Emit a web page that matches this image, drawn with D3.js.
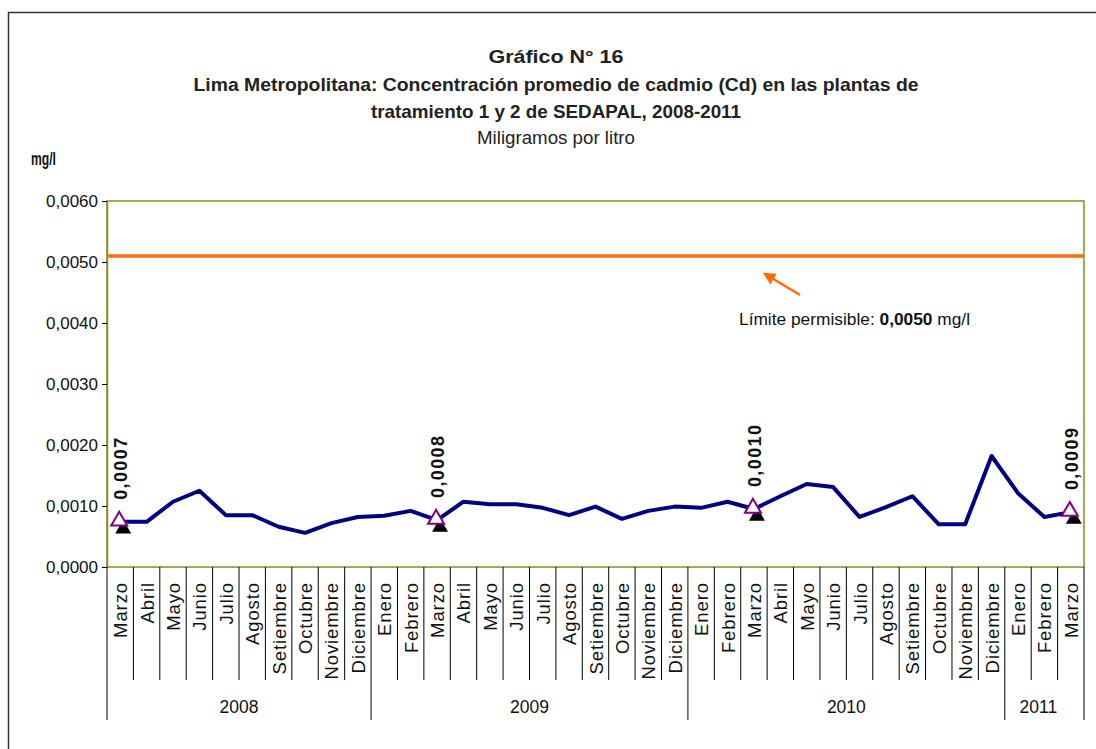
<!DOCTYPE html>
<html><head><meta charset="utf-8">
<script src="https://cdn.jsdelivr.net/npm/d3@7"></script>
<style>
body{margin:0;background:#fff;}
svg{display:block;font-family:"Liberation Sans",Arial,sans-serif;}
</style></head>
<body>
<svg id="c" width="1096" height="749"></svg>
<script>
const months = ["Marzo","Abril","Mayo","Junio","Julio","Agosto","Setiembre","Octubre","Noviembre","Diciembre",
 "Enero","Febrero","Marzo","Abril","Mayo","Junio","Julio","Agosto","Setiembre","Octubre","Noviembre","Diciembre",
 "Enero","Febrero","Marzo","Abril","Mayo","Junio","Julio","Agosto","Setiembre","Octubre","Noviembre","Diciembre",
 "Enero","Febrero","Marzo"];
const years = ["2008","2009","2010","2011"];
const yearCounts = [10,12,12,3];
const values = [0.00074,0.00074,0.00107,0.00125,0.00085,0.00085,0.00066,0.00056,0.00072,0.00082,
 0.00084,0.00092,0.00077,0.00107,0.00103,0.00103,0.00097,0.00085,0.00099,0.00079,0.00092,0.00099,
 0.00097,0.00107,0.00095,0.00116,0.00136,0.00131,0.00082,0.00098,0.00116,0.00070,0.00070,0.00182,
 0.00121,0.00082,0.00090];
const markedIdx = [0,12,24,36];
const markedLabels = ["0,0007","0,0008","0,0010","0,0009"];
const limitValue = 0.0051;
const yTicks = [0,0.001,0.002,0.003,0.004,0.005,0.006];
const titleLines = ["Gráfico N° 16","Lima Metropolitana: Concentración promedio de cadmio (Cd) en las plantas de","tratamiento 1 y 2 de SEDAPAL, 2008-2011"];
const subtitle = "Miligramos por litro";

const svg = d3.select("#c");
const L=107,R=1084,T=201,B=567;
const x = d3.scaleBand().domain(d3.range(months.length)).range([L,R]);
const y = d3.scaleLinear().domain([0,0.006]).range([B,T]);
const fmt = v => d3.format(".4f")(v).replace(".",",");

// outer border
svg.append("rect").attr("x",8.5).attr("y",12.5).attr("width",1100).attr("height",800)
  .attr("fill","none").attr("stroke","#333").attr("stroke-width",1.5);

// titles
const narrow = "'Liberation Sans Narrow','Arial Narrow','Liberation Sans',Arial,sans-serif";
const tl = [{t:titleLines[0],y:63,w:135},{t:titleLines[1],y:91,w:725},{t:titleLines[2],y:118,w:370}];
tl.forEach(d=>{
  svg.append("text").attr("x",556).attr("y",d.y).attr("text-anchor","middle")
   .attr("font-family",narrow).attr("font-weight","bold").attr("font-size",18.5)
   .attr("textLength",d.w).attr("lengthAdjust","spacingAndGlyphs").attr("fill","#222").text(d.t);
});
svg.append("text").attr("x",556).attr("y",144).attr("text-anchor","middle")
  .attr("font-family",narrow).attr("font-size",17.5).attr("textLength",158).attr("lengthAdjust","spacingAndGlyphs")
  .attr("fill","#222").text(subtitle);
svg.append("text").attr("x",31).attr("y",165).attr("font-family",narrow).attr("font-weight","bold")
  .attr("font-size",19).attr("textLength",25).attr("lengthAdjust","spacingAndGlyphs").attr("fill","#111").text("mg/l");

// plot frame
svg.append("rect").attr("x",L).attr("y",T).attr("width",R-L).attr("height",B-T)
  .attr("fill","none").attr("stroke","#8a8a1e").attr("stroke-width",1.5);

// y axis
const yAxis = d3.axisLeft(y).tickValues(yTicks).tickFormat(fmt).tickSize(5).tickSizeOuter(0);
const ya = svg.append("g").attr("transform",`translate(${L},0)`).call(yAxis);
ya.select(".domain").attr("stroke","#8a8a1e").attr("stroke-width",1.5);
ya.selectAll(".tick line").attr("stroke","#000");
ya.selectAll(".tick text").attr("font-size",17).attr("fill","#111").attr("font-family","'Liberation Sans',Arial,sans-serif").attr("x",-9);

// x separators
const bounds = d3.range(months.length+1).map(i => i<months.length ? x(i) : R);
let cum=[0]; yearCounts.forEach(c=>cum.push(cum[cum.length-1]+c));
bounds.forEach((bx,i)=>{
  const isYear = cum.includes(i);
  svg.append("line").attr("x1",bx).attr("x2",bx).attr("y1",B).attr("y2",isYear?720:680)
    .attr("stroke","#000").attr("stroke-width",1);
});
// month labels
months.forEach((m,i)=>{
  const cx = x(i)+x.bandwidth()/2;
  svg.append("text").attr("transform",`translate(${cx+7},582) rotate(-90)`)
   .attr("text-anchor","end").attr("font-size",18.5).attr("letter-spacing",0.9).attr("fill","#111").text(m);
});
// year labels
years.forEach((yr,i)=>{
  const a = bounds[cum[i]], b = bounds[cum[i+1]];
  svg.append("text").attr("x",(a+b)/2 - (i===3?6:0)).attr("y",713).attr("text-anchor","middle")
   .attr("font-size",17.5).attr("fill","#111").text(yr);
});

// limit line
svg.append("line").attr("x1",L).attr("x2",R).attr("y1",y(limitValue)).attr("y2",y(limitValue))
  .attr("stroke","#ff6a0d").attr("stroke-width",3.5);

// arrow
svg.append("defs").append("marker").attr("id","ah").attr("viewBox","0 0 10 10").attr("refX",8).attr("refY",5)
  .attr("markerWidth",5).attr("markerHeight",5).attr("orient","auto")
  .append("path").attr("d","M0,0L10,5L0,10z").attr("fill","#ff6a0d");
svg.append("line").attr("x1",800).attr("y1",295).attr("x2",765).attr("y2",274)
  .attr("stroke","#ff6a0d").attr("stroke-width",2.5).attr("marker-end","url(#ah)");
const ann = svg.append("text").attr("x",739).attr("y",325).attr("font-size",17).attr("fill","#111")
  .attr("textLength",231).attr("lengthAdjust","spacingAndGlyphs");
ann.append("tspan").text("Límite permisible: ");
ann.append("tspan").attr("font-weight","bold").text("0,0050");
ann.append("tspan").text(" mg/l");

// series line
const cxp = i => x(i)+x.bandwidth()/2;
svg.append("path").datum(values)
  .attr("d",d3.line().x((d,i)=>cxp(i)).y(d=>y(d)))
  .attr("fill","none").attr("stroke","#000080").attr("stroke-width",4).attr("stroke-linejoin","round");

// markers
const tri = d3.symbol().type(d3.symbolTriangle).size(110);
markedIdx.forEach((i,k)=>{
  const px=cxp(i), py=y(values[i]);
  svg.append("path").attr("d",tri()).attr("transform",`translate(${px+3},${py+7})`).attr("fill","#000");
  svg.append("path").attr("d",tri()).attr("transform",`translate(${px-1},${py-1})`)
    .attr("fill","#fff").attr("stroke","#800080").attr("stroke-width",2);
  svg.append("text").attr("transform",`translate(${px+7},${py-22}) rotate(-90)`)
    .attr("font-weight","bold").attr("font-size",18).attr("letter-spacing",1.4).attr("fill","#111").text(markedLabels[k]);
});
</script>
</body></html>
